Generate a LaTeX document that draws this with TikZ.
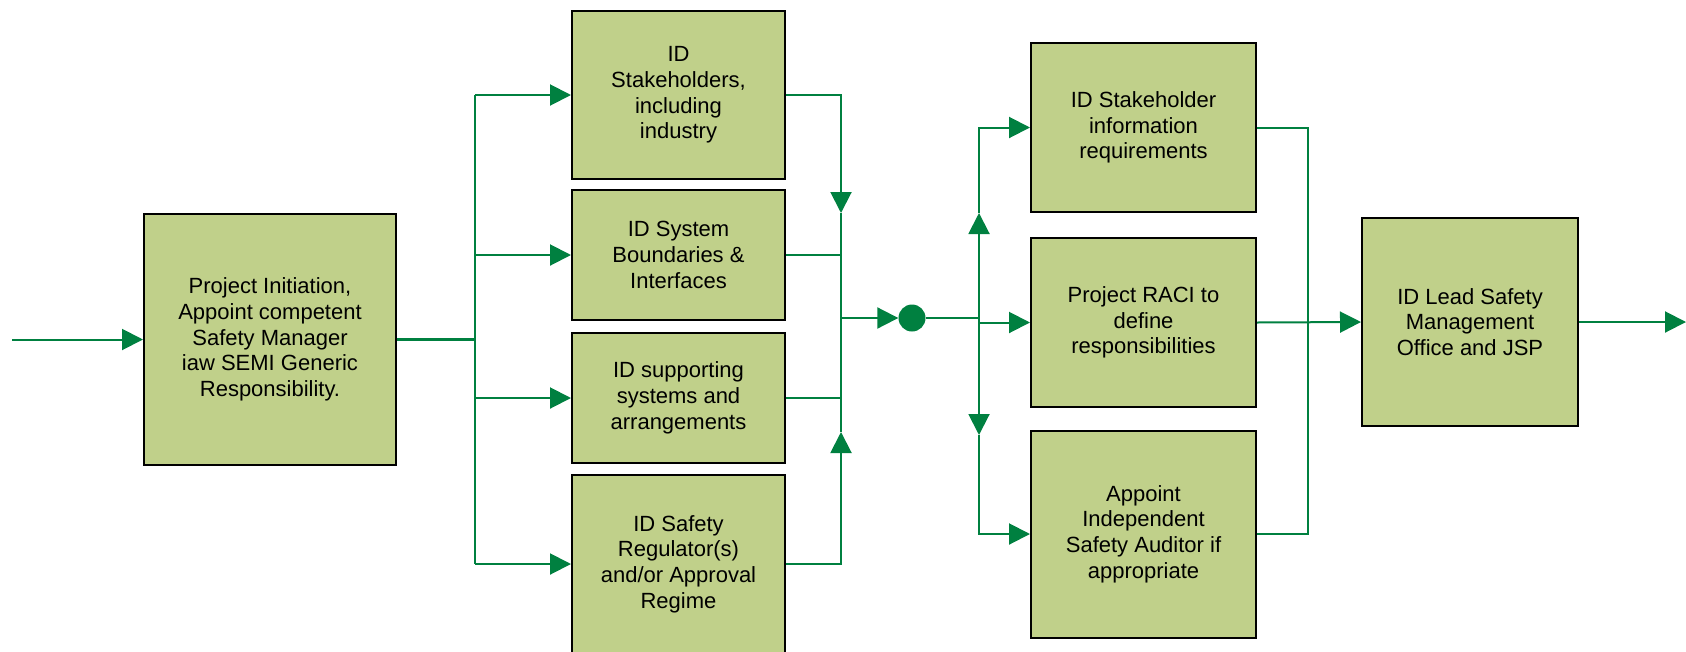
\documentclass[tikz,border=0pt]{standalone}
\usepackage{fontspec}
\setmainfont{Liberation Sans}
\usetikzlibrary{arrows.meta}
\definecolor{boxfill}{RGB}{192,208,138}
\definecolor{lnk}{RGB}{0,128,64}
\begin{document}
\begin{tikzpicture}[x=1pt,y=-1pt,
  blk/.style={draw=black, line width=2pt, fill=boxfill, align=center, inner sep=0pt,
    font=\fontsize{22}{25.7}\selectfont},
  link/.style={draw=lnk, line width=2pt},
  arr/.style={link, -{Triangle[length=21pt,width=21pt]}},
  dotnode/.style={circle, fill=lnk, minimum size=27pt, inner sep=0pt}]
\clip (0,0) rectangle (1686,651);
\useasboundingbox (0,0) rectangle (1686,651);

% boxes
\node[blk, minimum width=252pt, minimum height=251pt] (p1) at (270,339.5)
  {Project Initiation,\\Appoint competent\\Safety Manager\\iaw SEMI Generic\\Responsibility.};
\node[blk, minimum width=213pt, minimum height=168pt] (a) at (678.5,95)
  {ID\\Stakeholders,\\including\\industry};
\node[blk, minimum width=213pt, minimum height=130pt] (b) at (678.5,255)
  {ID System\\Boundaries \&\\Interfaces};
\node[blk, minimum width=213pt, minimum height=130pt] (c) at (678.5,398)
  {ID supporting\\systems and\\arrangements};
\node[blk, minimum width=213pt, minimum height=178pt] (d) at (678.5,564)
  {ID Safety\\Regulator(s)\\and/or Approval\\Regime};
\node[blk, minimum width=225pt, minimum height=169pt] (e) at (1143.5,127.5)
  {ID Stakeholder\\information\\requirements};
\node[blk, minimum width=225pt, minimum height=169pt] (f) at (1143.5,322.5)
  {Project RACI to\\define\\responsibilities};
\node[blk, minimum width=225pt, minimum height=207pt] (g) at (1143.5,534)
  {Appoint\\Independent\\Safety Auditor if\\appropriate};
\node[blk, minimum width=216pt, minimum height=208pt] (h) at (1470,322)
  {ID Lead Safety\\Management\\Office and JSP};
\node[dotnode] (dot) at (912,318) {};

% coordinates
\coordinate (in) at (12,339.5);
\coordinate (out) at (1686,322);
\coordinate (lb) at (475,339.5);
\coordinate (la) at (475,95);
\coordinate (lbb) at (475,255);
\coordinate (lc) at (475,398);
\coordinate (ld) at (475,564);
\coordinate (ra) at (841,95);
\coordinate (rb) at (841,255);
\coordinate (rc) at (841,398);
\coordinate (rd) at (841,564);
\coordinate (rdown) at (841,213);
\coordinate (rup) at (841,432);
\coordinate (rm) at (841,318);
\coordinate (sm) at (979,318);
\coordinate (se) at (979,127.5);
\coordinate (sf) at (979,322.5);
\coordinate (sg) at (979,534);
\coordinate (sup) at (979,213);
\coordinate (sdown) at (979,435);
\coordinate (te) at (1308,127.5);
\coordinate (tg) at (1308,534);

% input
\draw[arr] (in) -- (p1.west);
% fan out
\draw[link, line width=2.5pt] (p1.east) -- (lb);
\draw[link] (la) -- (ld);
\draw[arr] (la) -- (a.west);
\draw[arr] (lbb) -- (b.west);
\draw[arr] (lc) -- (c.west);
\draw[arr] (ld) -- (d.west);
% fan in
\draw[arr] (a.east) -- (ra) -- (rdown);
\draw[link] (rdown) -- (rup);
\draw[arr] (d.east) -- (rd) -- (rup);
\draw[link] (b.east) -- (rb);
\draw[link] (c.east) -- (rc);
\draw[arr] (rm) -- (dot.west);
% second fan out
\draw[link] (dot.east) -- (sm);
\draw[arr] (sm) -- (sup);
\draw[arr] (sup) -- (se) -- (e.west);
\draw[arr] (sm) -- (sdown);
\draw[arr] (sdown) -- (sg) -- (g.west);
\draw[arr] (sf) -- (f.west);
% second fan in
\draw[link] (e.east) -- (te) -- (tg) -- (g.east);
\draw[arr] (f.east) -- (h.west);
\draw[arr] (h.east) -- (out);
\end{tikzpicture}
\end{document}
